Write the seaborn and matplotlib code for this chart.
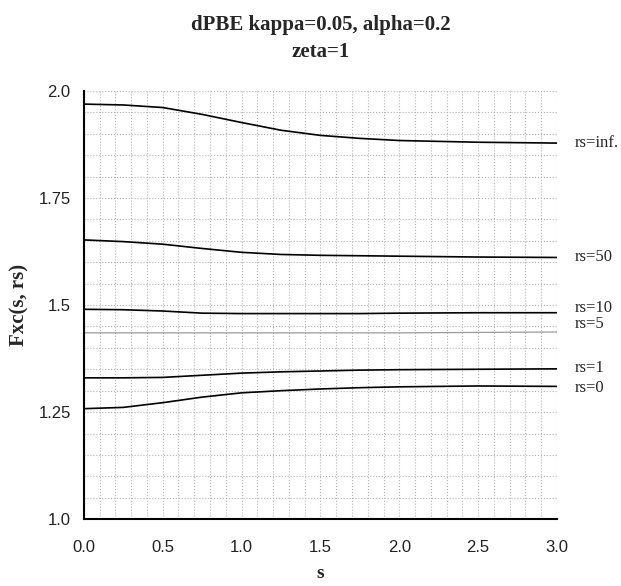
import numpy as np
import pandas as pd
import seaborn as sns
from matplotlib import pyplot as plt
from matplotlib.ticker import MultipleLocator, FixedLocator

# valores
s = [0.0, 0.25, 0.5, 0.75, 1.0, 1.25, 1.5, 1.75, 2.0, 2.5, 3.0]
fxc_inf = [1.969, 1.967, 1.961, 1.945, 1.926, 1.908, 1.896, 1.889, 1.884, 1.880, 1.878]
fxc_50 = [1.652, 1.648, 1.642, 1.632, 1.623, 1.618, 1.616, 1.615, 1.614, 1.612, 1.611]
fxc_10 = [1.490, 1.489, 1.486, 1.481, 1.480, 1.480, 1.480, 1.480, 1.481, 1.482, 1.482]
fxc_5 = [1.435, 1.435, 1.435, 1.435, 1.435, 1.435, 1.435, 1.435, 1.435, 1.436, 1.437]
fxc_1 = [1.330, 1.330, 1.331, 1.336, 1.341, 1.344, 1.346, 1.348, 1.349, 1.350, 1.351]
fxc_0 = [1.258, 1.261, 1.272, 1.285, 1.295, 1.300, 1.304, 1.307, 1.309, 1.311, 1.310]

curve_names = ["rs=inf.", "rs=50", "rs=10", "rs=5", "rs=1", "rs=0"]
label_y = [1.879, 1.611, 1.494, 1.455, 1.354, 1.307]
x_ticks = [0.0, 0.5, 1.0, 1.5, 2.0, 2.5, 3.0]
y_ticks = [1.0, 1.25, 1.5, 1.75, 2.0]
y_tick_labels = ["1.0", "1.25", "1.5", "1.75", "2.0"]

df = pd.DataFrame({"s": s, "rs=inf.": fxc_inf, "rs=50": fxc_50, "rs=10": fxc_10,
                   "rs=5": fxc_5, "rs=1": fxc_1, "rs=0": fxc_0})

sns.set_style("white")
fig = plt.figure(figsize=(6.21, 5.86), dpi=100)
ax = fig.add_axes([0.135, 0.114, 0.762, 0.731])

for name in curve_names:
    if name == "rs=5":
        sns.lineplot(data=df, x="s", y=name, ax=ax, color="#9a9a9a", linewidth=0.9)
    else:
        sns.lineplot(data=df, x="s", y=name, ax=ax, color="black", linewidth=1.2)

for name, yl in zip(curve_names, label_y):
    ax.annotate(name, xy=(3.0, yl), xytext=(13, 0), textcoords="offset points",
                va="center", ha="left", fontsize=12, family="Liberation Serif",
                annotation_clip=False)

ax.set_xlim(0, 3.0)
ax.set_ylim(1.0, 2.0)
ax.xaxis.set_major_locator(FixedLocator(x_ticks))
ax.xaxis.set_minor_locator(MultipleLocator(0.1))
ax.yaxis.set_major_locator(FixedLocator(y_ticks))
ax.yaxis.set_minor_locator(MultipleLocator(0.05))
ax.set_xticklabels([f"{v:.1f}" for v in x_ticks])
ax.set_yticklabels(y_tick_labels)

ax.grid(True, which="both", color="#b5b5b5", linestyle=":", linewidth=0.8)
ax.set_axisbelow(True)

for side in ["top", "right"]:
    ax.spines[side].set_visible(False)
for side in ["left", "bottom"]:
    ax.spines[side].set_color("black")
    ax.spines[side].set_linewidth(1.5)

ax.tick_params(axis="x", which="major", direction="out", length=8, width=1.4,
               labelsize=12, colors="black", pad=7)
ax.tick_params(axis="x", which="minor", direction="out", length=5, width=1.2)
ax.tick_params(axis="y", which="both", direction="out", length=6, width=1.2,
               labelsize=12, colors="black")
for lbl in ax.get_xticklabels() + ax.get_yticklabels():
    lbl.set_family("Liberation Sans")
    lbl.set_color("#222222")

ax.set_xlabel("s", fontsize=14, fontweight="bold", family="Liberation Serif", labelpad=7)
ax.set_ylabel("Fxc(s, rs)", fontsize=15, fontweight="bold", family="Liberation Serif", labelpad=6)

fig.text(0.517, 0.957, "dPBE kappa=0.05, alpha=0.2", ha="center", va="center",
         fontsize=15, fontweight="bold", family="Liberation Serif")
fig.text(0.517, 0.911, "zeta=1", ha="center", va="center",
         fontsize=15, fontweight="bold", family="Liberation Serif")

fig.savefig("out.png", dpi=100)
